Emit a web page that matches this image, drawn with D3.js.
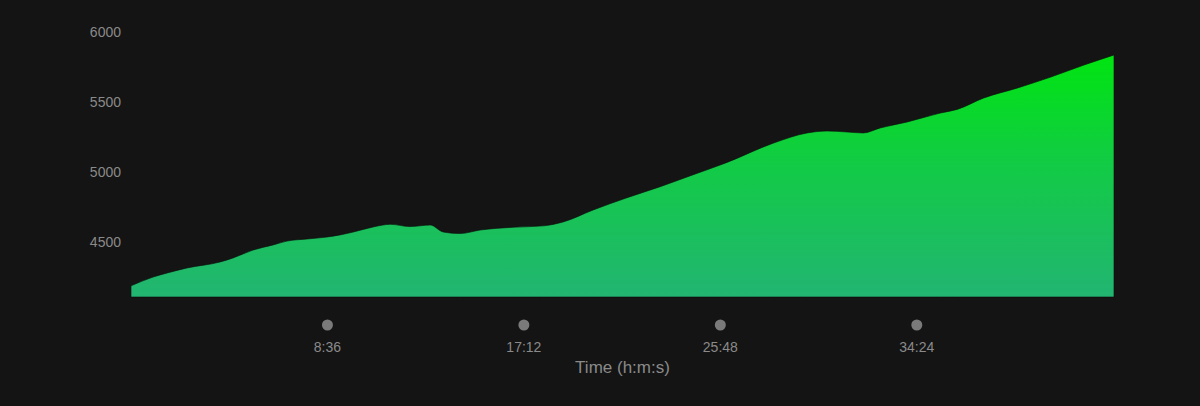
<!DOCTYPE html>
<html>
<head>
<meta charset="utf-8">
<script src="https://cdn.jsdelivr.net/npm/d3@7"></script>
<style>
  html, body { margin: 0; padding: 0; background: #141414; }
  svg { display: block; }
  .tick text { fill: #8a8a8a; font-family: "Liberation Sans", Arial, sans-serif; font-size: 14px; }
  .axis-title { fill: #8a8a8a; font-family: "Liberation Sans", Arial, sans-serif; font-size: 17px; }
</style>
</head>
<body>
<div id="chart"></div>
<script>
// elapsed time (seconds) and elevation
var times = [0, 58, 95, 147, 234, 268, 321, 373, 410, 463, 515, 549, 584, 636, 681, 733, 786, 820, 865, 917,
             1004, 1083, 1135, 1214, 1301, 1388, 1475, 1562, 1688, 1776, 1828, 1881, 1923, 1968, 2039, 2126,
             2170, 2240, 2329, 2416, 2503, 2582];
var elevation = [4180, 4243, 4272, 4308, 4351, 4380, 4437, 4473, 4501, 4516, 4530, 4545, 4566, 4602, 4621, 4605,
                 4616, 4566, 4555, 4580, 4600, 4610, 4638, 4724, 4810, 4889, 4975, 5061, 5204, 5276, 5290, 5283,
                 5276, 5312, 5355, 5419, 5445, 5527, 5599, 5677, 5763, 5835];
var yTicks = [4500, 5000, 5500, 6000];
var xTicks = [516, 1032, 1548, 2064];
var xTickLabels = ["8:36", "17:12", "25:48", "34:24"];

var width = 1200, height = 406;

var data = times.map(function (t, i) { return [t, elevation[i]]; });

var x = d3.scaleLinear().domain([0, 2582]).range([131, 1114]);
var y = d3.scaleLinear().domain([4100, 6000]).range([297, 32]);

var svg = d3.select("#chart").append("svg")
    .attr("width", width)
    .attr("height", height);

svg.append("rect").attr("width", width).attr("height", height).attr("fill", "#141414");

var grad = svg.append("defs").append("linearGradient")
    .attr("id", "fillGrad")
    .attr("gradientUnits", "userSpaceOnUse")
    .attr("x1", 0).attr("x2", 0)
    .attr("y1", y(4100)).attr("y2", y(5840));
grad.append("stop").attr("offset", "0%").attr("stop-color", "#22b572");
grad.append("stop").attr("offset", "55%").attr("stop-color", "#12cb45");
grad.append("stop").attr("offset", "100%").attr("stop-color", "#00e510");

var area = d3.area()
    .x(function (d) { return x(d[0]); })
    .y0(y(4100))
    .y1(function (d) { return y(d[1]); })
    .curve(d3.curveMonotoneX);

svg.append("path")
    .attr("d", area(data))
    .attr("fill", "url(#fillGrad)")
    .attr("stroke", "#0b0b0b")
    .attr("stroke-width", 1)
    .attr("stroke-opacity", 0.6);

// Y axis
var yAxis = d3.axisLeft(y).tickValues(yTicks).tickFormat(d3.format("d")).tickSize(0).tickPadding(10);
var gy = svg.append("g").attr("transform", "translate(121,0)").call(yAxis);
gy.select(".domain").remove();
gy.selectAll(".tick text").attr("x", 0).attr("dy", "0.35em");

// X axis: dots and labels
var gx = svg.append("g");
gx.selectAll("circle")
    .data(xTicks)
    .enter()
    .append("circle")
    .attr("cx", function (d) { return x(d); })
    .attr("cy", 325)
    .attr("r", 5.5)
    .attr("fill", "#7a7a7a");

gx.selectAll("text")
    .data(xTicks)
    .enter()
    .append("text")
    .attr("class", "tick-label")
    .attr("x", function (d) { return x(d); })
    .attr("y", 347)
    .attr("dy", "0.35em")
    .attr("text-anchor", "middle")
    .attr("fill", "#8a8a8a")
    .style("font-family", "'Liberation Sans', Arial, sans-serif")
    .style("font-size", "14px")
    .text(function (d, i) { return xTickLabels[i]; });

svg.append("text")
    .attr("class", "axis-title")
    .attr("x", (131 + 1114) / 2)
    .attr("y", 367)
    .attr("dy", "0.35em")
    .attr("text-anchor", "middle")
    .text("Time (h:m:s)");
</script>
</body>
</html>
